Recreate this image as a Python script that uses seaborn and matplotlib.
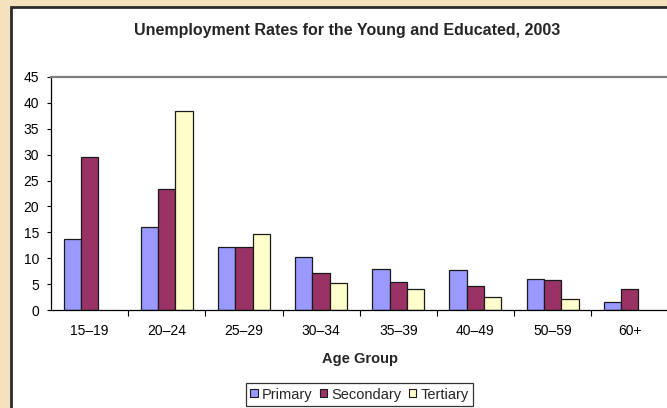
import matplotlib
matplotlib.use("Agg")
import matplotlib.pyplot as plt
from matplotlib.patches import Rectangle, Patch
import seaborn as sns
import pandas as pd
import numpy as np

# Age groups and unemployment rates (%) by level of education
age_groups = ["15–19", "20–24", "25–29", "30–34", "35–39", "40–49", "50–59", "60+"]
primary = [13.7, 16.0, 12.2, 10.3, 8.0, 7.8, 5.9, 1.5]
secondary = [29.5, 23.4, 12.2, 7.2, 5.5, 4.6, 5.7, 4.0]
tertiary = [np.nan, 38.4, 14.7, 5.3, 4.0, 2.5, 2.1, np.nan]
levels = ["Primary", "Secondary", "Tertiary"]
colors = ["#9999FF", "#993366", "#FFFFCC"]
y_ticks = [0, 5, 10, 15, 20, 25, 30, 35, 40, 45]

rows = []
for lvl, vals in zip(levels, [primary, secondary, tertiary]):
    for grp, v in zip(age_groups, vals):
        rows.append({"Age Group": grp, "Level": lvl, "Rate": v})
df = pd.DataFrame(rows)

sns.set_theme(style="white")
plt.rcParams["font.family"] = ["Liberation Sans", "DejaVu Sans"]

W, H = 667, 408
fig = plt.figure(figsize=(W / 100, H / 100), dpi=100)
fig.patch.set_facecolor("#F4E2BF")

# White chart area with dark frame, drawn beneath the axes
fig.patches.append(Rectangle((11 / W, -0.05), 1.2, (H - 7) / H + 0.05,
                             transform=fig.transFigure, facecolor="white",
                             edgecolor="#2b2b2b", linewidth=2, zorder=-5))

ax = fig.add_axes([51 / W, (H - 310) / H, (W - 51) / W + 0.002, (310 - 77) / H])
ax.set_zorder(2)
ax.set_facecolor("none")

sns.barplot(data=df, x="Age Group", y="Rate", hue="Level", order=age_groups,
            hue_order=levels, palette=colors, saturation=1, width=0.675,
            edgecolor="#1a1a1a", linewidth=0.9, errorbar=None, legend=False, ax=ax)

ax.set_ylim(0, 45)
ax.set_xlim(-0.5, len(age_groups) - 0.5)
ax.set_yticks(y_ticks)
ax.tick_params(axis="y", which="major", direction="out", length=3, width=0.8,
               pad=5.5, labelsize=10, colors="black", left=True)
ax.tick_params(axis="x", which="major", length=0, pad=10, labelsize=10, colors="black")
ax.set_xticks(np.arange(0.5, len(age_groups) - 0.5, 1), minor=True)
ax.tick_params(axis="x", which="minor", direction="out", length=4, width=0.8,
               color="black", bottom=True)

for s in ["left", "bottom"]:
    ax.spines[s].set_color("black")
    ax.spines[s].set_linewidth(0.9)
ax.spines["top"].set_color("#808080")
ax.spines["top"].set_linewidth(1.6)
ax.spines["right"].set_visible(False)

ax.set_ylabel("")
ax.set_xlabel("Age Group", fontsize=10.5, fontweight="bold", labelpad=10)

fig.text(347 / W, 1 - 31 / H, "Unemployment Rates for the Young and Educated, 2003",
         ha="center", va="center", fontsize=11.5, fontweight="bold", zorder=3)

handles = [Patch(facecolor=c, edgecolor="#1a1a1a", linewidth=0.8) for c in colors]
leg = fig.legend(handles, levels, loc="center", bbox_to_anchor=(359.5 / W, 1 - 394.5 / H),
                 ncol=3, fontsize=10.5, frameon=True, fancybox=False,
                 handlelength=0.5, handleheight=0.5, handletextpad=0.3,
                 columnspacing=0.5, borderpad=0.3, borderaxespad=0)
leg.get_frame().set_edgecolor("black")
leg.get_frame().set_linewidth(0.9)
leg.set_zorder(3)

fig.savefig("out.png", dpi=100, facecolor=fig.get_facecolor())
